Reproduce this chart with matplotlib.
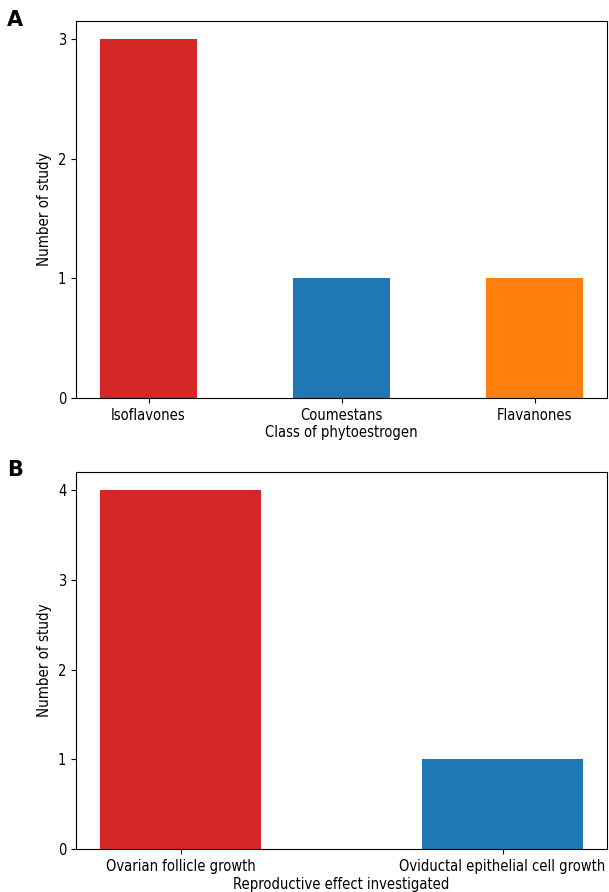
import matplotlib
matplotlib.use("Agg")
import matplotlib.pyplot as plt
from matplotlib.ticker import MaxNLocator

classes = ["Isoflavones", "Coumestans", "Flavanones"]
class_counts = [3, 1, 1]
class_colors = ["#d62728", "#1f77b4", "#ff7f0e"]

effects = ["Ovarian follicle growth", "Oviductal epithelial cell growth"]
effect_counts = [4, 1]
effect_colors = ["#d62728", "#1f77b4"]

# the reference text is narrower than plain DejaVu
plt.rcParams["font.stretch"] = "condensed"

fig = plt.figure(figsize=(6.09, 8.92), dpi=100)
axA = fig.add_axes([0.125, 0.554, 0.872, 0.422])
axB = fig.add_axes([0.125, 0.048, 0.872, 0.423])

def panel(ax, cats, counts, colors, xlabel):
    ax.bar(cats, counts, width=0.5, color=colors)
    ax.yaxis.set_major_locator(MaxNLocator(integer=True))
    ax.set_ylabel("Number of study", fontsize=10.8)
    ax.set_xlabel(xlabel, fontsize=10.5, labelpad=2)
    ax.tick_params(labelsize=10.5)

panel(axA, classes, class_counts, class_colors, "Class of phytoestrogen")
panel(axB, effects, effect_counts, effect_colors, "Reproductive effect investigated")

fig.text(0.012, 0.978, "A", fontsize=15, fontweight="bold", fontstretch="normal", va="center")
fig.text(0.012, 0.473, "B", fontsize=15, fontweight="bold", fontstretch="normal", va="center")

fig.savefig("out.png", dpi=100)
